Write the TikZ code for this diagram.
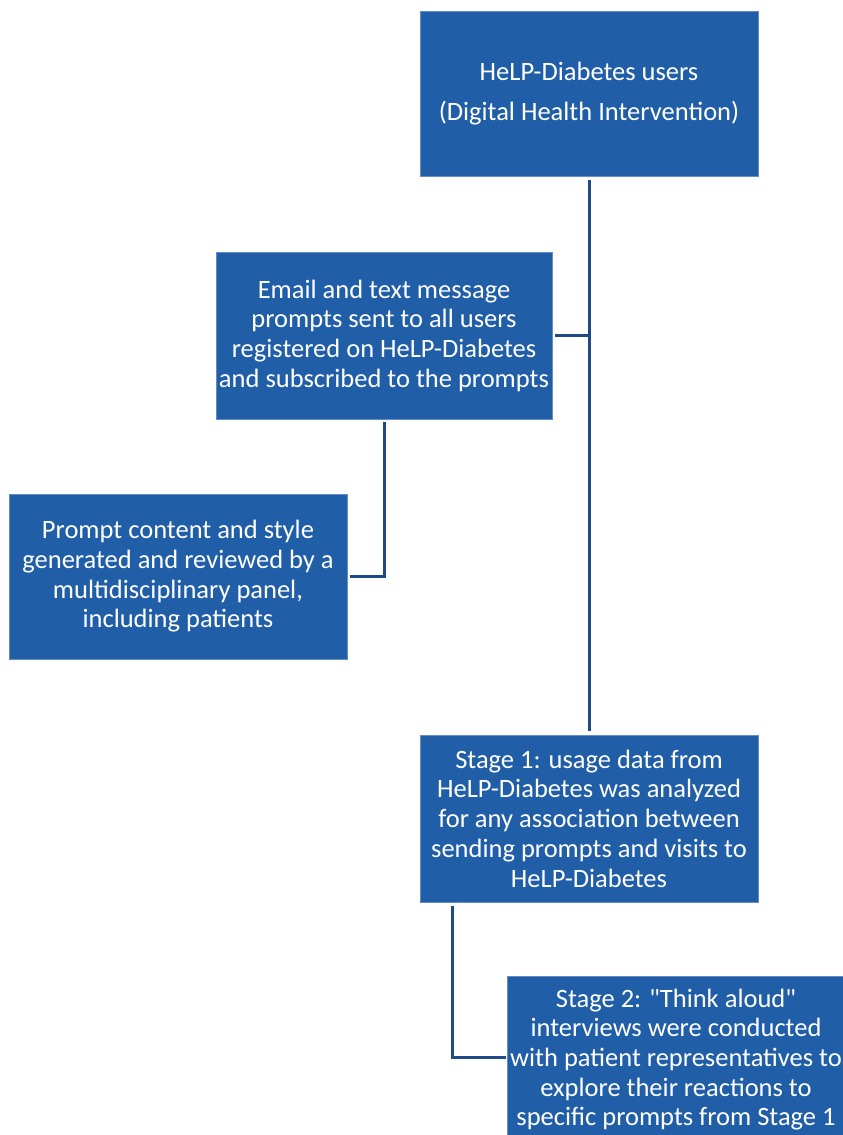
\documentclass[tikz,border=0pt]{standalone}
\usepackage{fontspec}
\setmainfont{Carlito}[Ligatures=TeXOff]
\definecolor{boxblue}{RGB}{33,94,168}
\definecolor{linenavy}{RGB}{31,73,135}
\begin{document}
\begin{tikzpicture}[x=1pt,y=-1pt,
  box/.style={rectangle, fill=boxblue, draw=boxblue!70!white, line width=0.6pt,
    minimum width=338pt, minimum height=166pt, inner sep=0pt,
    align=center, text=white, font=\fontsize{26.5}{29.7}\selectfont},
  conn/.style={draw=linenavy, line width=3pt}]
\useasboundingbox (0,0) rectangle (843,1135);
\clip (0,0) rectangle (843,1135);
\node[box, minimum height=165pt] (b1) at (589,93.5) {HeLP-Diabetes users\\[11pt](Digital Health Intervention)};
\node[box, minimum width=336pt, minimum height=167pt] (b2) at (384,335.5) {Email and text message\\prompts sent to all\ users\\registered on HeLP-Diabetes\\and subscribed to the prompts};
\node[box, minimum height=165pt] (b3) at (178,576.5) {Prompt content and style\\generated and reviewed by a\\multidisciplinary\ panel,\\including\ patients};
\node[box, minimum height=167pt] (b4) at (589,818.5) {Stage 1: usage data from\\HeLP-Diabetes was analyzed\\for any association\ between\\sending prompts and visits to\\HeLP-Diabetes};
\node[box, minimum height=167pt] (b5) at (676,1059.5) {Stage 2: "Think aloud"\\interviews were conducted\\with patient representatives to\\explore their reactions to\\specific prompts from Stage 1};
\draw[conn, shorten <=4pt, shorten >=4pt] (b1.south) -- (b4.north);
\coordinate (j1) at (b2.east -| b1.south);
\draw[conn, shorten <=3pt] (b2.east) -- (j1);
\draw[conn, shorten <=3pt, shorten >=3pt] (b2.south) |- (b3.east);
\draw[conn, shorten <=4pt, shorten >=1pt] ([xshift=33pt]b4.south west) |- ([yshift=2.5pt]b5.west);
\end{tikzpicture}
\end{document}
